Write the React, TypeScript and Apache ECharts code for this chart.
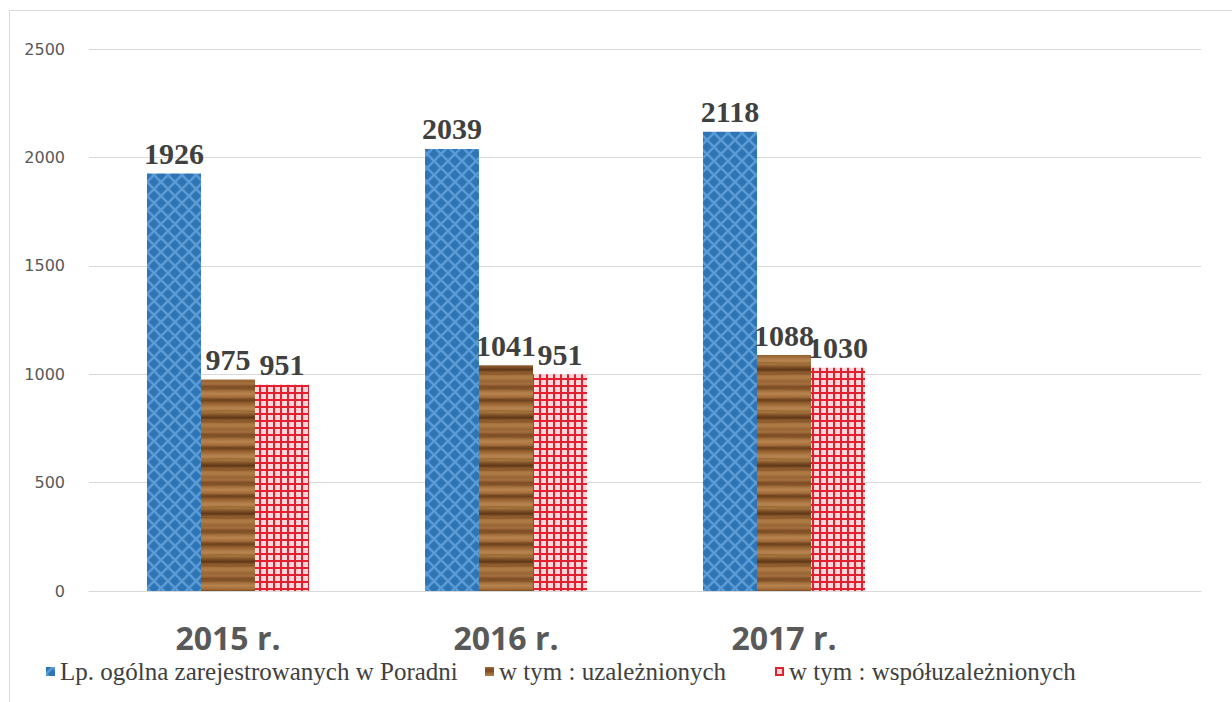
import React, { useEffect, useRef } from "react";
import * as echarts from "echarts";

const categories = ["2015 r.", "2016 r.", "2017 r.", ""];
const seriesNames = [
  "Lp. ogólna zarejestrowanych w Poradni",
  "w tym : uzależnionych",
  "w tym : współuzależnionych",
];
const totalValues = [1926, 2039, 2118];
const addictedValues = [975, 1041, 1088];
// bar heights as drawn in the picture, and labels as printed
const coDependentValues = [951, 1000, 1030];
const coDependentLabels = ["951", "951", "1030"];
const yTicks = [0, 500, 1000, 1500, 2000, 2500];

function makeCanvas(w: number, h: number, draw: (c: CanvasRenderingContext2D) => void) {
  const cv = document.createElement("canvas");
  cv.width = w;
  cv.height = h;
  const ctx = cv.getContext("2d")!;
  draw(ctx);
  return cv;
}

function bluePattern() {
  const s = 14;
  const cv = makeCanvas(s, s, (c) => {
    c.fillStyle = "#5b9bd5";
    c.fillRect(0, 0, s, s);
    c.fillStyle = "#2e75b6";
    const r = 5.2;
    const centers = [
      [7, 7],
      [0, 0],
      [s, 0],
      [0, s],
      [s, s],
    ];
    centers.forEach(([x, y]) => {
      c.beginPath();
      c.moveTo(x, y - r);
      c.lineTo(x + r, y);
      c.lineTo(x, y + r);
      c.lineTo(x - r, y);
      c.closePath();
      c.fill();
    });
  });
  return { image: cv, repeat: "repeat", imageWidth: s, imageHeight: s };
}

function woodPattern() {
  const w = 54;
  const h = 48;
  const stops: [number, string][] = [
    [0, "#a4703e"],
    [0.06, "#7a4a22"],
    [0.12, "#9a6534"],
    [0.2, "#b7844f"],
    [0.28, "#a06a38"],
    [0.34, "#6e421d"],
    [0.4, "#94602f"],
    [0.5, "#b58450"],
    [0.58, "#a9773f"],
    [0.64, "#85552a"],
    [0.7, "#5f3716"],
    [0.76, "#8f5b2c"],
    [0.86, "#b17e4a"],
    [0.94, "#9a6636"],
    [1, "#a4703e"],
  ];
  const cv = makeCanvas(w, h, (c) => {
    const g = c.createLinearGradient(0, 0, 0, h);
    stops.forEach(([o, col]) => g.addColorStop(o, col));
    c.fillStyle = g;
    c.fillRect(0, 0, w, h);
    c.strokeStyle = "rgba(70,38,12,0.25)";
    c.lineWidth = 1;
    [5, 15, 27, 38].forEach((y, i) => {
      c.beginPath();
      c.moveTo(0, y);
      c.bezierCurveTo(w * 0.3, y + (i % 2 ? 1 : -1), w * 0.6, y + (i % 2 ? -1 : 1), w, y);
      c.stroke();
    });
  });
  return { image: cv, repeat: "repeat", imageWidth: w, imageHeight: h };
}

function redPattern() {
  const s = 7;
  const cv = makeCanvas(s, s, (c) => {
    c.fillStyle = "#ffd6da";
    c.fillRect(0, 0, s, s);
    c.fillStyle = "#e3202f";
    c.fillRect(0, 0, 2, s);
    c.fillRect(0, 0, s, 2);
  });
  return { image: cv, repeat: "repeat", imageWidth: s, imageHeight: s };
}

export default function App() {
  const ref = useRef<HTMLDivElement>(null);

  useEffect(() => {
    if (!ref.current) return;
    const chart = echarts.init(ref.current, undefined, { renderer: "svg" });
    const labelStyle = {
      show: true,
      position: "top" as const,
      distance: 5,
      color: "#404040",
      fontFamily: "'Liberation Serif', 'Times New Roman', serif",
      fontWeight: "bold" as const,
      fontSize: 30,
    };
    const legendText = {
      color: "#404040",
      fontFamily: "'Liberation Serif', 'Times New Roman', serif",
      fontSize: 25,
    };
    const legendBase = {
      top: 659,
      itemWidth: 9,
      itemHeight: 9,
      icon: "rect",
      textStyle: legendText,
      padding: 0,
    };
    chart.setOption({
      animation: false,
      backgroundColor: "#ffffff",
      graphic: [
        {
          type: "rect",
          shape: { x: 9.5, y: 10.5, width: 1300, height: 800 },
          style: { fill: "none", stroke: "#d9d9d9", lineWidth: 1 },
          silent: true,
        },
      ],
      legend: [
        { ...legendBase, left: 46, data: [seriesNames[0]] },
        { ...legendBase, left: 485, data: [seriesNames[1]] },
        { ...legendBase, left: 775, data: [seriesNames[2]] },
      ],
      grid: { left: 89, right: 31, top: 49, bottom: 111, containLabel: false },
      xAxis: {
        type: "category",
        data: categories,
        axisLine: { show: true, lineStyle: { color: "#d9d9d9" } },
        axisTick: { show: false },
        axisLabel: {
          margin: 30,
          color: "#595959",
          fontFamily: "'Open Sans', 'Liberation Sans', sans-serif",
          fontWeight: "bold",
          fontSize: 32,
        },
      },
      yAxis: {
        type: "value",
        min: yTicks[0],
        max: yTicks[yTicks.length - 1],
        interval: 500,
        axisLine: { show: false },
        axisTick: { show: false },
        splitLine: { lineStyle: { color: "#d9d9d9", width: 1 } },
        axisLabel: {
          margin: 24,
          color: "#595959",
          fontFamily: "'DejaVu Sans', sans-serif",
          fontSize: 16,
          formatter: (v: number) => String(v),
        },
      },
      series: [
        {
          name: seriesNames[0],
          type: "bar",
          barWidth: 54,
          barGap: "0%",
          data: totalValues,
          itemStyle: { color: bluePattern() },
          label: labelStyle,
        },
        {
          name: seriesNames[1],
          type: "bar",
          barWidth: 54,
          barGap: "0%",
          data: addictedValues,
          itemStyle: { color: woodPattern() },
          label: labelStyle,
        },
        {
          name: seriesNames[2],
          type: "bar",
          barWidth: 54,
          barGap: "0%",
          data: coDependentValues,
          itemStyle: { color: redPattern() },
          label: {
            ...labelStyle,
            formatter: (p: any) => coDependentLabels[p.dataIndex],
          },
        },
      ],
    });
    return () => chart.dispose();
  }, []);

  return (
    <div
      ref={ref}
      style={{ position: "fixed", left: 0, top: 0, width: 1232, height: 702 }}
    />
  );
}
